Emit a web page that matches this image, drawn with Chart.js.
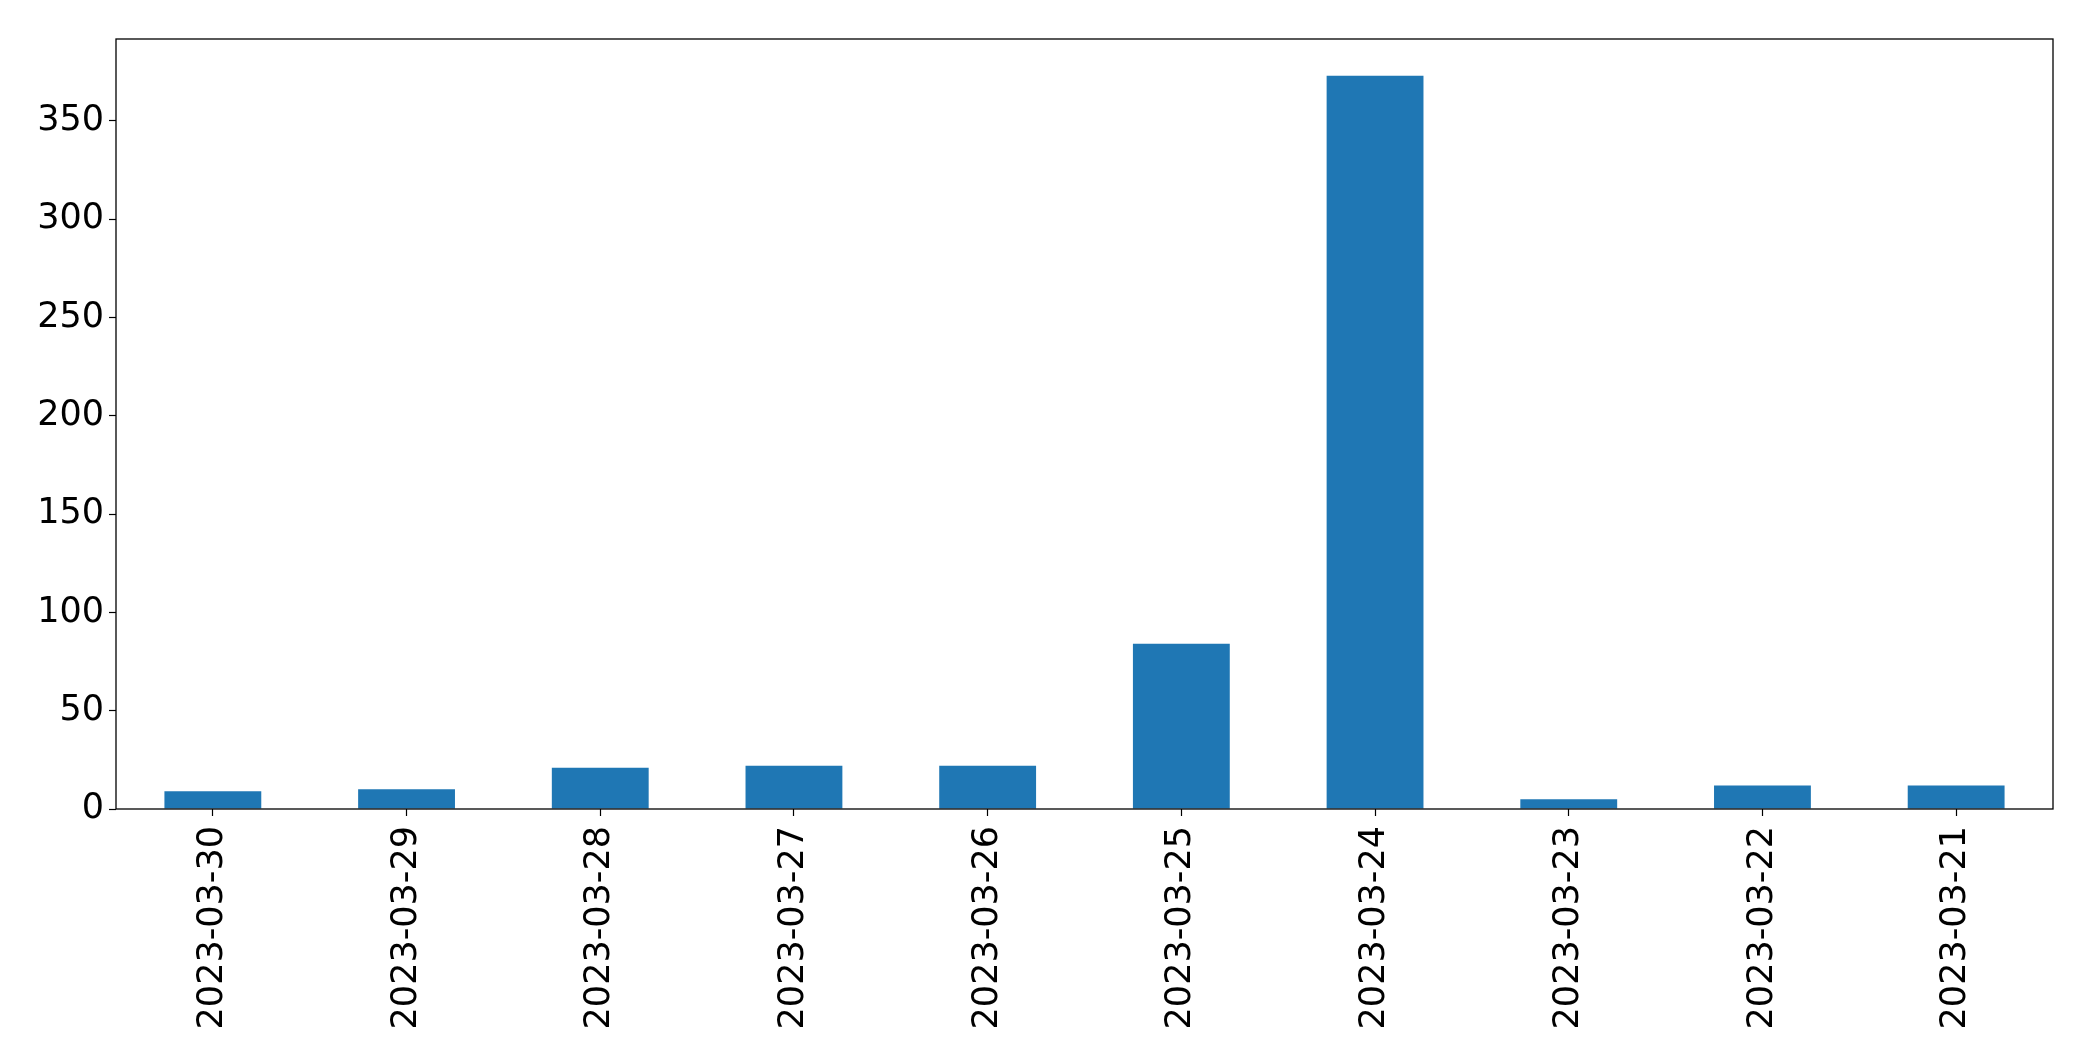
<!DOCTYPE html>
<html>
<head>
<meta charset="utf-8">
<script src="https://cdn.jsdelivr.net/npm/chart.js@4"></script>
<style>
  html, body { margin: 0; padding: 0; background: #fff; }
  canvas { display: block; }
</style>
</head>
<body>
<canvas id="barChart" width="2093" height="1061"></canvas>
<script>
const dates = ['2023-03-30', '2023-03-29', '2023-03-28', '2023-03-27', '2023-03-26',
  '2023-03-25', '2023-03-24', '2023-03-23', '2023-03-22', '2023-03-21'];
const counts = [9, 10, 21, 22, 22, 84, 373, 5, 12, 12];
const yTicks = [0, 50, 100, 150, 200, 250, 300, 350];

// matplotlib-style frame round the plot area
const frameBox = {
  id: 'frameBox',
  afterDraw(chart) {
    const { ctx, chartArea: a } = chart;
    ctx.save();
    ctx.strokeStyle = '#000';
    ctx.lineWidth = 1.3;
    ctx.strokeRect(a.left, a.top, a.right - a.left, a.bottom - a.top);
    ctx.restore();
  },
};

const ctx = document.getElementById('barChart').getContext('2d');
new Chart(ctx, {
  type: 'bar',
  data: {
    labels: dates,
    datasets: [{
      data: counts,
      backgroundColor: '#1f77b4',
      borderWidth: 0,
      categoryPercentage: 1.0,
      barPercentage: 0.5,
    }],
  },
  options: {
    responsive: false,
    devicePixelRatio: 1,
    animation: false,
    layout: { padding: { left: 0, right: 40, top: 39, bottom: 0 } },
    plugins: {
      legend: { display: false },
      tooltip: { enabled: false },
    },
    scales: {
      x: {
        grid: { drawOnChartArea: false, offset: false, color: '#000', tickLength: 7, tickWidth: 1.2 },
        border: { display: false },
        ticks: {
          color: '#000',
          font: { family: 'DejaVu Sans', size: 35 },
          minRotation: 90,
          maxRotation: 90,
          padding: 10,
        },
        afterFit(scale) { scale.height = 252; },
      },
      y: {
        min: 0,
        max: 391.7,
        afterBuildTicks(scale) { scale.ticks = yTicks.map((v) => ({ value: v })); },
        grid: { drawOnChartArea: false, color: '#000', tickLength: 7, tickWidth: 1.2 },
        border: { display: false },
        ticks: {
          color: '#000',
          font: { family: 'DejaVu Sans', size: 35 },
          padding: 5,
        },
        afterFit(scale) { scale.width = 116; },
      },
    },
  },
  plugins: [frameBox],
});
</script>
</body>
</html>
